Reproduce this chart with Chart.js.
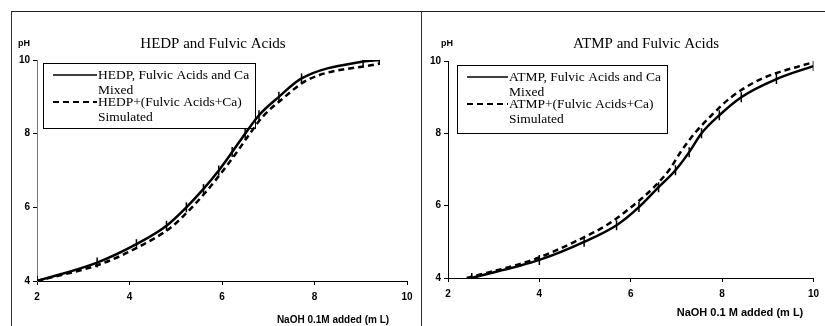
<!DOCTYPE html>
<html>
<head>
<meta charset="utf-8">
<script src="https://cdn.jsdelivr.net/npm/chart.js@4.4.1/dist/chart.umd.min.js"></script>
<style>
  body { margin: 0; background: #fff; width: 825px; height: 326px; overflow: hidden; position: relative; }
  .panel { position: absolute; top: 11px; height: 315px; border-top: 1px solid #222; }
  #p1 { left: 11px; width: 410px; border-left: 1px solid #333; }
  #p2 { left: 421px; width: 404px; border-left: 1px solid #333; }
  canvas { display: block; }
</style>
</head>
<body>
<div class="panel" id="p1"><canvas id="hedp" width="410" height="314"></canvas></div>
<div class="panel" id="p2"><canvas id="atmp" width="403" height="314"></canvas></div>
<script>
// HEDP panel: NaOH volume (mL) and pH
var hedpMixedX = [2.0, 3.3, 4.15, 4.8, 5.23, 5.6, 5.93, 6.22, 6.5, 6.8, 7.23, 7.72, 9.05, 9.4];
var hedpMixedY = [4, 4.5, 5, 5.5, 6, 6.5, 7, 7.5, 8, 8.5, 9, 9.5, 9.96, 10.0];
var hedpSimX = [2.0, 3.4, 4.25, 4.9, 5.32, 5.68, 6.0, 6.3, 6.58, 6.88, 7.32, 7.85, 9.4];
var hedpSimY = [4, 4.47, 4.96, 5.46, 5.96, 6.46, 6.96, 7.46, 7.96, 8.46, 8.96, 9.46, 9.9];

// ATMP panel: NaOH volume (mL) and pH
var atmpMixedX = [2.52, 4.0, 4.98, 5.69, 6.18, 6.61, 6.98, 7.28, 7.55, 7.94, 8.42, 9.19, 10.0];
var atmpMixedY = [4, 4.5, 5, 5.46, 5.96, 6.51, 6.98, 7.48, 8.0, 8.5, 9, 9.5, 9.86];
var atmpSimX = [2.41, 3.85, 4.77, 5.52, 6.05, 6.5, 6.85, 7.1, 7.4, 7.77, 8.2, 8.85, 10.0];
var atmpSimY = [4, 4.5, 5, 5.5, 6, 6.5, 7, 7.5, 8, 8.5, 9, 9.5, 9.97];

var xTicks = [2, 4, 6, 8, 10];
var yTicks = [4, 6, 8, 10];

function pts(xs, ys) {
    return xs.map(function (x, i) { return {x: x, y: ys[i]}; });
}

// titles, pH label, x title and boxed legend drawn on the chart canvas
var decorPlugin = {
    id: 'decor',
    afterDraw: function (chart, args, o) {
        var ctx = chart.ctx;
        ctx.save();
        ctx.fillStyle = '#000';
        ctx.font = '15px "Liberation Serif", "Times New Roman", serif';
        ctx.textAlign = 'center';
        ctx.textBaseline = 'middle';
        ctx.fillText(o.title, o.titleX, 32);

        ctx.font = 'bold 9px "Liberation Sans", Arial, sans-serif';
        ctx.fillText('pH', o.phX, 32);
        ctx.font = 'bold ' + o.xTitleSize + 'px "Liberation Sans", Arial, sans-serif';
        ctx.fillText(o.xTitle, o.xTitleX, o.xTitleY);

        // legend box
        var b = o.box;
        ctx.strokeStyle = '#000';
        ctx.lineWidth = 1;
        ctx.strokeRect(b.x + 0.5, b.y + 0.5, b.w, b.h);
        ctx.font = '13.5px "Liberation Serif", "Times New Roman", serif';
        ctx.textAlign = 'left';
        var tx = b.x + o.textOff;
        ctx.lineWidth = 1.5;
        ctx.beginPath();
        ctx.moveTo(b.x + 10, b.y + 12);
        ctx.lineTo(tx - 1, b.y + 12);
        ctx.stroke();
        ctx.lineWidth = 2;
        ctx.setLineDash([6, 4]);
        ctx.beginPath();
        ctx.moveTo(b.x + 10, b.y + 39);
        ctx.lineTo(tx - 1, b.y + 39);
        ctx.stroke();
        ctx.setLineDash([]);
        ctx.fillText(o.labels[0], tx, b.y + 12);
        ctx.fillText('Mixed', tx, b.y + 27);
        ctx.fillText(o.labels[1], tx, b.y + 39);
        ctx.fillText('Simulated', tx, b.y + 54);
        ctx.restore();
    }
};

function makeChart(id, mixed, sim, opt) {
    var ctx = document.getElementById(id).getContext('2d');
    var tickFont = { family: '"Liberation Sans", Arial, sans-serif', size: 10, weight: 'bold' };
    return new Chart(ctx, {
        type: 'line',
        data: {
            datasets: [{
                label: opt.labels[0],
                data: mixed,
                borderColor: '#000',
                backgroundColor: '#000',
                borderWidth: 2.5,
                pointStyle: 'line',
                rotation: 90,
                pointRadius: 5,
                pointBorderWidth: 1.5,
                cubicInterpolationMode: 'monotone'
            },
            {
                label: opt.labels[1],
                data: sim,
                borderColor: '#000',
                backgroundColor: '#000',
                borderWidth: 2.5,
                borderDash: [6, 4],
                pointRadius: 0,
                cubicInterpolationMode: 'monotone'
            }]
        },
        options: {
            responsive: false,
            animation: false,
            layout: { padding: { top: opt.top, right: opt.right, left: 0, bottom: 0 } },
            plugins: {
                legend: { display: false },
                tooltip: { enabled: false },
                decor: opt
            },
            scales: {
                x: {
                    type: 'linear',
                    min: 2, max: 10,
                    afterBuildTicks: function (s) { s.ticks = xTicks.map(function (v) { return {value: v}; }); },
                    afterFit: function (s) { s.height = opt.xH; },
                    grid: { drawOnChartArea: false, drawTicks: true, tickLength: 4, color: '#000' },
                    border: { color: '#000', width: 1 },
                    ticks: { color: '#000', padding: 6, maxRotation: 0, font: tickFont }
                },
                y: {
                    type: 'linear',
                    min: 4, max: 10,
                    afterBuildTicks: function (s) { s.ticks = yTicks.map(function (v) { return {value: v}; }); },
                    afterFit: function (s) { s.width = opt.yW; },
                    grid: { drawOnChartArea: false, drawTicks: true, tickLength: 4, color: '#000' },
                    border: { color: opt.yColor, width: 1 },
                    ticks: { color: '#000', padding: 3, font: tickFont }
                }
            }
        },
        plugins: [decorPlugin]
    });
}

makeChart('hedp', pts(hedpMixedX, hedpMixedY), pts(hedpSimX, hedpSimY), {
    title: 'HEDP and Fulvic Acids', titleX: 201, phX: 12,
    xTitle: 'NaOH 0.1M added (m L)', xTitleX: 321, xTitleY: 308, xTitleSize: 10,
    labels: ['HEDP, Fulvic Acids and Ca', 'HEDP+(Fulvic Acids+Ca)'],
    box: {x: 31, y: 51, w: 212, h: 65}, textOff: 55,
    top: 48, right: 15, xH: 45, yW: 25, yColor: '#777'
});

makeChart('atmp', pts(atmpMixedX, atmpMixedY), pts(atmpSimX, atmpSimY), {
    title: 'ATMP and Fulvic Acids', titleX: 224, phX: 25,
    xTitle: 'NaOH 0.1 M added (m L)', xTitleX: 318, xTitleY: 301, xTitleSize: 11,
    labels: ['ATMP, Fulvic Acids and Ca', 'ATMP+(Fulvic Acids+Ca)'],
    box: {x: 35, y: 53, w: 210, h: 68}, textOff: 52,
    top: 49, right: 4, xH: 48, yW: 26, yColor: '#000'
});
</script>
</body>
</html>
